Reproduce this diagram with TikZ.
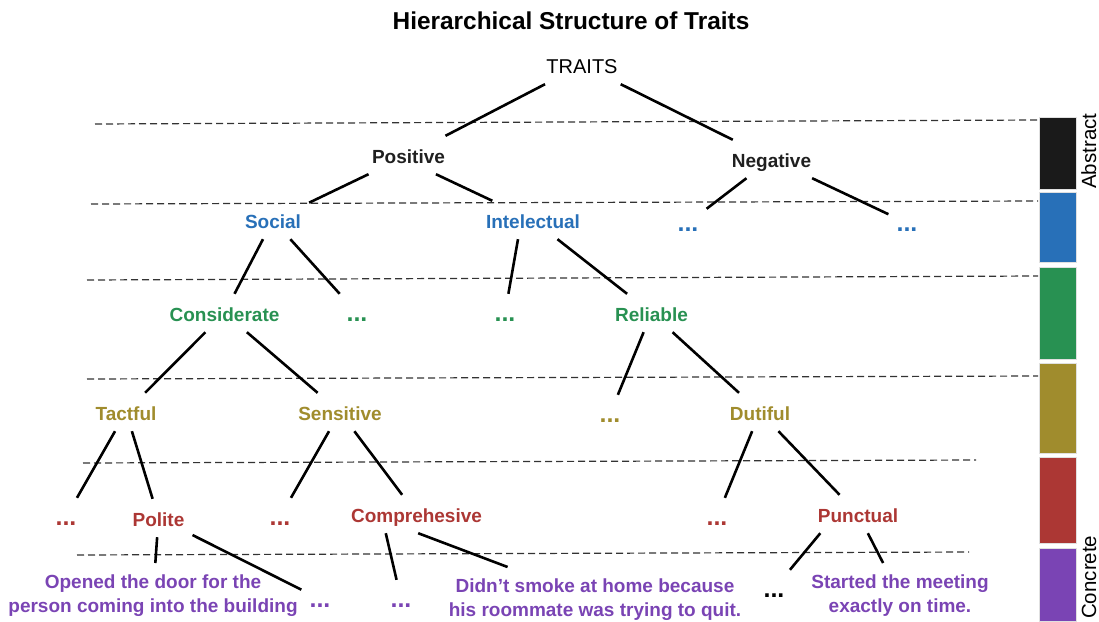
\documentclass[tikz,border=0pt]{standalone}
\usepackage{fontspec}
\setmainfont{Liberation Sans}
\usepackage{tikz}
\usetikzlibrary{calc}
\usepackage{xcolor}
\definecolor{lvblack}{RGB}{26,26,26}
\definecolor{lvblue}{RGB}{40,112,184}
\definecolor{lvgreen}{RGB}{40,145,82}
\definecolor{lvolive}{RGB}{160,140,45}
\definecolor{lvred}{RGB}{172,55,52}
\definecolor{lvpurple}{RGB}{122,68,180}

\begin{document}
\begin{tikzpicture}[x=1pt,y=-1pt,
    trait/.style={font=\fontsize{19}{24}\selectfont\bfseries, anchor=base,
      text height=20pt, text depth=4pt, inner xsep=8pt, inner ysep=7pt},
    dots/.style={trait, font=\fontsize{25}{24}\selectfont\bfseries},
    leaf/.style={font=\fontsize{19}{24}\selectfont\bfseries, text=lvpurple,
      align=center, anchor=north, inner xsep=8pt, inner ysep=12pt},
    branch/.style={line width=2.6pt},
    levelline/.style={black!80, line width=1.2pt, dash pattern=on 7pt off 4pt}]
  \useasboundingbox (0,0) rectangle (1099,621);

  \node[anchor=base, font=\fontsize{24.4}{28}\selectfont\bfseries] (title) at (571,29) {Hierarchical Structure of Traits};

  \foreach \xa/\ya/\xb/\yb in {95/124/1038/120, 91/204/1038/201, 87/280/1038/276,
      87/379/1038/376, 83/463/976/460, 77/555/969/552}
    \draw[levelline] (\xa,\ya) -- (\xb,\yb);

  \foreach \ya/\yb/\col in {117/189/lvblack, 192/262/lvblue, 267/359/lvgreen,
      363/453/lvolive, 457/543/lvred, 548/621/lvpurple}
    \filldraw[fill=\col, draw=black!12, line width=0.8pt] (1039,\ya) rectangle (1076,\yb);
  \node[rotate=90, anchor=base west, inner sep=0pt, font=\fontsize{20.5}{24}\selectfont] (abstract) at (1096,189) {Abstract};
  \node[rotate=90, anchor=base west, inner sep=0pt, font=\fontsize{20.5}{24}\selectfont] (concrete) at (1096,619) {Concrete};

  \node[trait, font=\fontsize{20}{24}\selectfont] (trt) at (582,73) {TRAITS};
  \node[trait, text=black!88] (pos) at (408.5,163) {Positive};
  \node[trait, text=black!88] (neg) at (771.5,167) {Negative};

  \node[trait, text=lvblue] (soc) at (273,228) {Social};
  \node[trait, text=lvblue] (intl) at (533,228) {Intelectual};
  \node[dots, text=lvblue] (bdl) at (688,231) {...};
  \node[dots, text=lvblue] (bdr) at (907,231) {...};

  \node[trait, text=lvgreen] (cons) at (224.5,321) {Considerate};
  \node[dots, text=lvgreen] (gdl) at (357,321) {...};
  \node[dots, text=lvgreen] (gdm) at (505,321) {...};
  \node[trait, text=lvgreen] (rel) at (651.5,321) {Reliable};

  \node[trait, text=lvolive] (tact) at (126,420) {Tactful};
  \node[trait, text=lvolive] (sens) at (340,420) {Sensitive};
  \node[dots, text=lvolive] (odl) at (610,422) {...};
  \node[trait, text=lvolive] (dut) at (760,420) {Dutiful};

  \node[dots, text=lvred] (rdl) at (66,525) {...};
  \node[trait, text=lvred] (pol) at (158.5,526) {Polite};
  \node[dots, text=lvred] (rdm) at (280,525) {...};
  \node[trait, text=lvred] (comp) at (416.5,522) {Comprehesive};
  \node[dots, text=lvred] (rdr) at (717,525) {...};
  \node[trait, text=lvred] (punc) at (858,522) {Punctual};

  \node[leaf] (door) at (153,563) {Opened the door for the\\person coming into the building};
  \node[dots, text=lvpurple] (pdl) at (320,607) {...};
  \node[dots, text=lvpurple] (pdm) at (401,607) {...};
  \node[leaf] (smoke) at (595,567) {Didn’t smoke at home because\\his roommate was trying to quit.};
  \node[dots] (kdots) at (774,597) {...};
  \node[leaf] (meet) at (900,563) {Started the meeting\\exactly on time.};

  \foreach \a/\b in {trt/pos, trt/neg, pos/soc, pos.-35/intl, neg/bdl, neg/bdr,
      soc/cons, soc/gdl, intl.-128/gdm, intl/rel,
      cons/tact, cons/sens, rel/odl, rel/dut,
      tact/rdl, tact/pol, sens/rdm, sens/comp, dut/rdr, dut/punc,
      pol/door, pol/pdl, comp.-148/pdm, comp.-85/smoke, punc.-153/kdots, punc/meet}
    \draw[branch] (\a) -- (\b);
\end{tikzpicture}
\end{document}
